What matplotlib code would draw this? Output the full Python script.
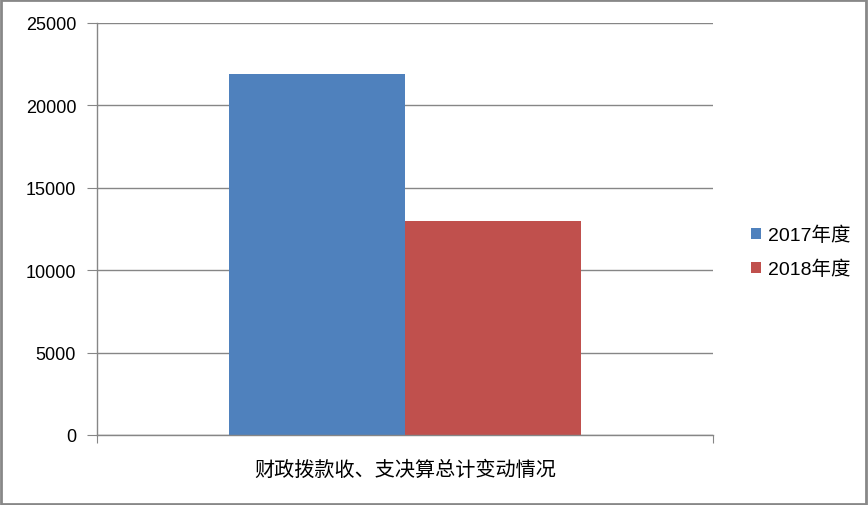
import matplotlib
matplotlib.use("Agg")
import matplotlib.pyplot as plt
from matplotlib.patches import Rectangle

plt.rcParams['font.family'] = ['Liberation Sans', 'Noto Sans CJK SC']

category = "财政拨款收、支决算总计变动情况"
series_names = ["2017年度", "2018年度"]
values = [21900, 12990]
colors = ["#4F81BD", "#C0504D"]
yticks = [0, 5000, 10000, 15000, 20000, 25000]

fig = plt.figure(figsize=(8.68, 5.06), dpi=100)
ax = fig.add_axes([97 / 868, 70 / 506, 616 / 868, 412 / 506])

grid_c = "#868686"
bar_w = 0.2857
offsets = [-bar_w / 2, bar_w / 2]
handles = []
for name, v, c, off in zip(series_names, values, colors, offsets):
    b = ax.bar(off, v, width=bar_w, color=c, label=name, zorder=2)
    handles.append(b)

ax.set_xlim(-0.5, 0.5)
ax.set_ylim(0, 25000)
ax.set_yticks(yticks)
ax.set_yticklabels([str(t) for t in yticks], fontsize=13)
ax.yaxis.grid(True, color=grid_c, linewidth=1)
ax.set_axisbelow(True)

ax.set_xticks([-0.5, 0.5])
ax.set_xticklabels(["", ""])
ax.tick_params(axis='x', length=6, color=grid_c, direction='out')
ax.tick_params(axis='y', length=7, color=grid_c, direction='out', pad=8)
ax.text(0.5, -0.082, category, transform=ax.transAxes, ha='center', va='center',
        fontsize=14.5)

for s in ['top', 'right']:
    ax.spines[s].set_visible(False)
for s in ['left', 'bottom']:
    ax.spines[s].set_color(grid_c)
    ax.spines[s].set_linewidth(1)

fig.legend(handles=handles, labels=series_names, loc='center left',
           bbox_to_anchor=(743 / 868, 253 / 506), frameon=False, fontsize=14,
           handlelength=0.5, handleheight=0.5, handletextpad=0.4,
           labelspacing=0.8, borderaxespad=0)

fig.patches.append(Rectangle((0.001, 0.002), 0.997, 0.996, transform=fig.transFigure,
                             fill=False, edgecolor="#888888", linewidth=2))

fig.savefig("out.png", dpi=100)
